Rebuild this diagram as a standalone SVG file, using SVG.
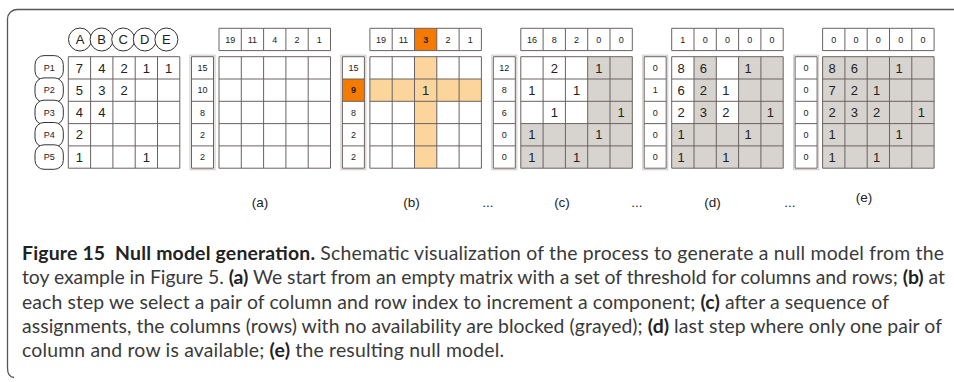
<svg xmlns="http://www.w3.org/2000/svg" width="954" height="382" viewBox="0 0 954 382">
  <style>
    .ln { fill: none; stroke: #6b6262; stroke-width: 1; }
    .halo { fill: none; stroke: #d4d0cc; stroke-width: 1.2; }
    .gr { fill: #d7d4cf; }
    .lo { fill: #fcd59c; }
    .do { fill: #f47b00; }
    .n { font-family: "Liberation Sans", Arial, sans-serif; font-size: 13px; fill: #222; text-anchor: middle; }
    .s { font-family: "Liberation Sans", Arial, sans-serif; font-size: 9px; fill: #222; text-anchor: middle; }
    .b { font-weight: bold; }
    .node { fill: #fff; stroke: #333; stroke-width: 1; }
    .lbl { font-family: "Liberation Sans", Arial, sans-serif; font-size: 13.5px; fill: #222; text-anchor: middle; }
    .cap { font-family: Lato, "Open Sans", sans-serif; font-size: 19.4px; fill: #3a3a3a; }
    .cb { font-weight: bold; fill: #222; }
  </style>
  <defs>
    <!-- 5x5 matrix grid, 5-cell header row and 5-cell threshold column -->
    <path id="grid" d="M0 0H111.5V111.5H0Z M22.3 0V111.5M44.6 0V111.5M66.9 0V111.5M89.2 0V111.5M0 22.3H111.5M0 44.6H111.5M0 66.9H111.5M0 89.2H111.5"/>
    <path id="hdr" d="M0 0H111.5V22.3H0Z M22.3 0V22.3M44.6 0V22.3M66.9 0V22.3M89.2 0V22.3"/>
    <path id="rcol" d="M0 0H22V111.5H0Z M0 22.3H22M0 44.6H22M0 66.9H22M0 89.2H22"/>
  </defs>

  <!-- figure frame -->
  <path d="M954 9.5H17A9.5 9.5 0 0 0 7.5 19V368Q7.5 377 14 377.5" fill="none" stroke="#555" stroke-width="1.3"/>

  <!-- toy example matrix -->
  <g id="toy">
    <g id="cols">
      <circle class="node" cx="80" cy="39.5" r="11.5"/>
      <circle class="node" cx="101.6" cy="39.5" r="11.5"/>
      <circle class="node" cx="123.2" cy="39.5" r="11.5"/>
      <circle class="node" cx="144.8" cy="39.5" r="11.5"/>
      <circle class="node" cx="166.4" cy="39.5" r="11.5"/>
      <text class="n" x="80" y="44.2">A</text>
      <text class="n" x="101.6" y="44.2">B</text>
      <text class="n" x="123.2" y="44.2">C</text>
      <text class="n" x="144.8" y="44.2">D</text>
      <text class="n" x="166.4" y="44.2">E</text>
    </g>
    <g id="rows">
      <rect class="node" x="35" y="55.6" width="28.3" height="24.5" rx="9"/>
      <rect class="node" x="35" y="77.9" width="28.3" height="24.5" rx="9"/>
      <rect class="node" x="35" y="100.2" width="28.3" height="24.5" rx="9"/>
      <rect class="node" x="35" y="122.5" width="28.3" height="24.5" rx="9"/>
      <rect class="node" x="35" y="144.8" width="28.3" height="24.5" rx="9"/>
      <text class="s" x="49.2" y="71">P1</text>
      <text class="s" x="49.2" y="93.3">P2</text>
      <text class="s" x="49.2" y="115.6">P3</text>
      <text class="s" x="49.2" y="137.9">P4</text>
      <text class="s" x="49.2" y="160.2">P5</text>
    </g>
    <g id="toy-matrix">
      <use href="#grid" class="ln" x="68.3" y="56.7"/>
      <text class="n" x="79.45" y="72.5">7</text>
      <text class="n" x="101.75" y="72.5">4</text>
      <text class="n" x="124.05" y="72.5">2</text>
      <text class="n" x="146.35" y="72.5">1</text>
      <text class="n" x="168.65" y="72.5">1</text>
      <text class="n" x="79.45" y="94.8">5</text>
      <text class="n" x="101.75" y="94.8">3</text>
      <text class="n" x="124.05" y="94.8">2</text>
      <text class="n" x="79.45" y="117.1">4</text>
      <text class="n" x="101.75" y="117.1">4</text>
      <text class="n" x="79.45" y="139.4">2</text>
      <text class="n" x="79.45" y="161.7">1</text>
      <text class="n" x="146.35" y="161.7">1</text>
    </g>
  </g>

  <!-- (a) empty matrix with thresholds -->
  <g id="panel-a" transform="translate(219,0)">
    <rect class="halo" x="-29" y="55.2" width="25" height="114.5"/>
    <use href="#hdr" class="ln" x="0" y="28.3"/>
    <use href="#rcol" class="ln" x="-27.5" y="56.7"/>
    <use href="#grid" class="ln" x="0" y="56.7"/>
    <text class="s" x="11.15" y="42.6">19</text>
    <text class="s" x="33.45" y="42.6">11</text>
    <text class="s" x="55.75" y="42.6">4</text>
    <text class="s" x="78.05" y="42.6">2</text>
    <text class="s" x="100.35" y="42.6">1</text>
    <text class="s" x="-16.5" y="71">15</text>
    <text class="s" x="-16.5" y="93.3">10</text>
    <text class="s" x="-16.5" y="115.6">8</text>
    <text class="s" x="-16.5" y="137.9">2</text>
    <text class="s" x="-16.5" y="160.2">2</text>
  </g>

  <!-- (b) one increment step -->
  <g id="panel-b" transform="translate(369.9,0)">
    <rect class="lo" x="44.6" y="56.7" width="22.3" height="111.5"/>
    <rect class="lo" x="0" y="79" width="111.5" height="22.3"/>
    <rect class="do" x="44.6" y="28.3" width="22.3" height="22.3"/>
    <rect class="do" x="-27.5" y="79" width="22" height="22.3"/>
    <rect class="halo" x="-29" y="55.2" width="25" height="114.5"/>
    <use href="#hdr" class="ln" x="0" y="28.3"/>
    <use href="#rcol" class="ln" x="-27.5" y="56.7"/>
    <use href="#grid" class="ln" x="0" y="56.7"/>
    <text class="s" x="11.15" y="42.6">19</text>
    <text class="s" x="33.45" y="42.6">11</text>
    <text class="s b" x="55.75" y="42.6">3</text>
    <text class="s" x="78.05" y="42.6">2</text>
    <text class="s" x="100.35" y="42.6">1</text>
    <text class="s" x="-16.5" y="71">15</text>
    <text class="s b" x="-16.5" y="93.3">9</text>
    <text class="s" x="-16.5" y="115.6">8</text>
    <text class="s" x="-16.5" y="137.9">2</text>
    <text class="s" x="-16.5" y="160.2">2</text>
    <text class="n" x="55.75" y="94.8">1</text>
  </g>

  <!-- (c) blocked columns and rows -->
  <g id="panel-c" transform="translate(520.8,0)">
    <rect class="gr" x="66.9" y="56.7" width="44.6" height="111.5"/>
    <rect class="gr" x="0" y="123.6" width="111.5" height="44.6"/>
    <rect class="halo" x="-29" y="55.2" width="25" height="114.5"/>
    <use href="#hdr" class="ln" x="0" y="28.3"/>
    <use href="#rcol" class="ln" x="-27.5" y="56.7"/>
    <use href="#grid" class="ln" x="0" y="56.7"/>
    <text class="s" x="11.15" y="42.6">16</text>
    <text class="s" x="33.45" y="42.6">8</text>
    <text class="s" x="55.75" y="42.6">2</text>
    <text class="s" x="78.05" y="42.6">0</text>
    <text class="s" x="100.35" y="42.6">0</text>
    <text class="s" x="-16.5" y="71">12</text>
    <text class="s" x="-16.5" y="93.3">8</text>
    <text class="s" x="-16.5" y="115.6">6</text>
    <text class="s" x="-16.5" y="137.9">0</text>
    <text class="s" x="-16.5" y="160.2">0</text>
    <text class="n" x="33.45" y="72.5">2</text>
    <text class="n" x="78.05" y="72.5">1</text>
    <text class="n" x="11.15" y="94.8">1</text>
    <text class="n" x="55.75" y="94.8">1</text>
    <text class="n" x="33.45" y="117.1">1</text>
    <text class="n" x="100.35" y="117.1">1</text>
    <text class="n" x="11.15" y="139.4">1</text>
    <text class="n" x="78.05" y="139.4">1</text>
    <text class="n" x="11.15" y="161.7">1</text>
    <text class="n" x="55.75" y="161.7">1</text>
  </g>

  <!-- (d) last available pair -->
  <g id="panel-d" transform="translate(671.7,0)">
    <rect class="gr" x="22.3" y="56.7" width="22.3" height="111.5"/>
    <rect class="gr" x="66.9" y="56.7" width="44.6" height="111.5"/>
    <rect class="gr" x="0" y="123.6" width="111.5" height="44.6"/>
    <rect class="halo" x="-29" y="55.2" width="25" height="114.5"/>
    <use href="#hdr" class="ln" x="0" y="28.3"/>
    <use href="#rcol" class="ln" x="-27.5" y="56.7"/>
    <use href="#grid" class="ln" x="0" y="56.7"/>
    <text class="s" x="11.15" y="42.6">1</text>
    <text class="s" x="33.45" y="42.6">0</text>
    <text class="s" x="55.75" y="42.6">0</text>
    <text class="s" x="78.05" y="42.6">0</text>
    <text class="s" x="100.35" y="42.6">0</text>
    <text class="s" x="-16.5" y="71">0</text>
    <text class="s" x="-16.5" y="93.3">1</text>
    <text class="s" x="-16.5" y="115.6">0</text>
    <text class="s" x="-16.5" y="137.9">0</text>
    <text class="s" x="-16.5" y="160.2">0</text>
    <text class="n" x="9.5" y="72.5">8</text>
    <text class="n" x="31.8" y="72.5">6</text>
    <text class="n" x="76.4" y="72.5">1</text>
    <text class="n" x="9.5" y="94.8">6</text>
    <text class="n" x="31.8" y="94.8">2</text>
    <text class="n" x="54.1" y="94.8">1</text>
    <text class="n" x="9.5" y="117.1">2</text>
    <text class="n" x="31.8" y="117.1">3</text>
    <text class="n" x="54.1" y="117.1">2</text>
    <text class="n" x="98.7" y="117.1">1</text>
    <text class="n" x="9.5" y="139.4">1</text>
    <text class="n" x="76.4" y="139.4">1</text>
    <text class="n" x="9.5" y="161.7">1</text>
    <text class="n" x="54.1" y="161.7">1</text>
  </g>

  <!-- (e) resulting null model -->
  <g id="panel-e" transform="translate(822.6,0)">
    <rect class="gr" x="0" y="56.7" width="111.5" height="111.5"/>
    <rect class="halo" x="-29" y="55.2" width="25" height="114.5"/>
    <use href="#hdr" class="ln" x="0" y="28.3"/>
    <use href="#rcol" class="ln" x="-27.5" y="56.7"/>
    <use href="#grid" class="ln" x="0" y="56.7"/>
    <text class="s" x="11.15" y="42.6">0</text>
    <text class="s" x="33.45" y="42.6">0</text>
    <text class="s" x="55.75" y="42.6">0</text>
    <text class="s" x="78.05" y="42.6">0</text>
    <text class="s" x="100.35" y="42.6">0</text>
    <text class="s" x="-16.5" y="71">0</text>
    <text class="s" x="-16.5" y="93.3">0</text>
    <text class="s" x="-16.5" y="115.6">0</text>
    <text class="s" x="-16.5" y="137.9">0</text>
    <text class="s" x="-16.5" y="160.2">0</text>
    <text class="n" x="9.5" y="72.5">8</text>
    <text class="n" x="31.8" y="72.5">6</text>
    <text class="n" x="76.4" y="72.5">1</text>
    <text class="n" x="9.5" y="94.8">7</text>
    <text class="n" x="31.8" y="94.8">2</text>
    <text class="n" x="54.1" y="94.8">1</text>
    <text class="n" x="9.5" y="117.1">2</text>
    <text class="n" x="31.8" y="117.1">3</text>
    <text class="n" x="54.1" y="117.1">2</text>
    <text class="n" x="98.7" y="117.1">1</text>
    <text class="n" x="9.5" y="139.4">1</text>
    <text class="n" x="76.4" y="139.4">1</text>
    <text class="n" x="9.5" y="161.7">1</text>
    <text class="n" x="54.1" y="161.7">1</text>
  </g>

  <!-- panel labels -->
  <g id="labels">
    <text class="lbl" x="260" y="206.5">(a)</text>
    <text class="lbl" x="411.5" y="206.5">(b)</text>
    <text class="lbl" x="488" y="206.5">...</text>
    <text class="lbl" x="562" y="206.5">(c)</text>
    <text class="lbl" x="637" y="206.5">...</text>
    <text class="lbl" x="712.5" y="206.5">(d)</text>
    <text class="lbl" x="790" y="206.5">...</text>
    <text class="lbl" x="864" y="201.5">(e)</text>
  </g>

  <!-- caption -->
  <g id="caption" class="cap">
    <text x="22" y="260" textLength="922" lengthAdjust="spacing"><tspan class="cb">Figure 15&#160; Null model generation.</tspan> Schematic visualization of the process to generate a null model from the</text>
    <text x="22" y="284.3" textLength="923" lengthAdjust="spacing">toy example in Figure 5. <tspan class="cb">(a)</tspan> We start from an empty matrix with a set of threshold for columns and rows; <tspan class="cb">(b)</tspan> at</text>
    <text x="22" y="308.6" textLength="867" lengthAdjust="spacing">each step we select a pair of column and row index to increment a component; <tspan class="cb">(c)</tspan> after a sequence of</text>
    <text x="22" y="332.9" textLength="920" lengthAdjust="spacing">assignments, the columns (rows) with no availability are blocked (grayed); <tspan class="cb">(d)</tspan> last step where only one pair of</text>
    <text x="22" y="357.2" textLength="482" lengthAdjust="spacing">column and row is available; <tspan class="cb">(e)</tspan> the resulting null model.</text>
  </g>
</svg>
